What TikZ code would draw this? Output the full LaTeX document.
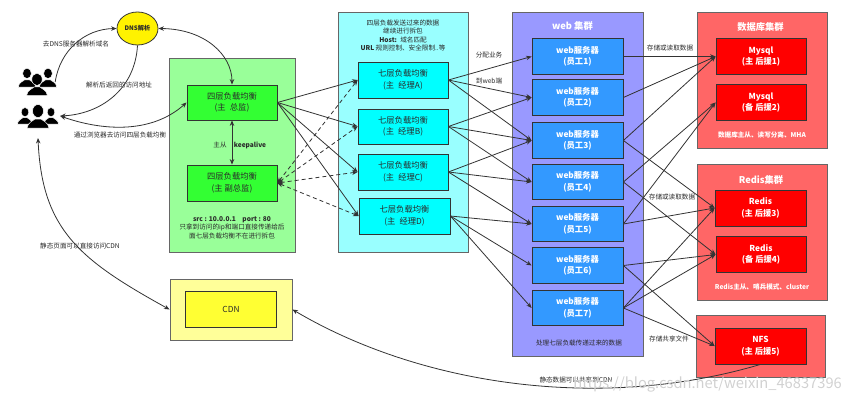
\documentclass[tikz,border=0pt]{standalone}
\usepackage{fontspec}
\setmainfont{Noto Sans CJK SC}
\usetikzlibrary{arrows.meta,shapes.geometric}
\definecolor{edgegray}{HTML}{666666}
\definecolor{linedark}{HTML}{333333}
\definecolor{textdark}{HTML}{2A2A2A}
\definecolor{gBack}{HTML}{99FF99}
\definecolor{gFill}{HTML}{33FF33}
\definecolor{yBack}{HTML}{FFFF99}
\definecolor{yFill}{HTML}{FFFF33}
\definecolor{aBack}{HTML}{99FFFF}
\definecolor{aFill}{HTML}{00FFFF}
\definecolor{wBack}{HTML}{9999FF}
\definecolor{wFill}{HTML}{3399FF}
\definecolor{rBack}{HTML}{FF6666}
\definecolor{rFill}{HTML}{FF0000}
\tikzset{
  outerbox/.style={draw=edgegray,line width=.9pt,inner sep=0pt},
  innerbox/.style={draw=linedark,line width=.8pt,inner sep=0pt,align=center,
    font=\fontsize{8.3}{11.5}\selectfont,text=textdark},
  whitebox/.style={innerbox,text=white,font=\fontsize{8.3}{11.5}\selectfont\bfseries},
  lbl/.style={inner sep=0pt,align=center,text=textdark,font=\fontsize{6.6}{8.6}\selectfont},
  whitelbl/.style={lbl,text=white,font=\fontsize{6.6}{8}\selectfont\bfseries},
  title/.style={inner sep=0pt,text=white,font=\fontsize{9.3}{11}\selectfont\bfseries},
  flow/.style={draw=linedark,line width=.8pt,-{Stealth[length=5.5pt,width=4.5pt]}},
  flowtwo/.style={flow,{Stealth[length=5.5pt,width=4.5pt]}-{Stealth[length=5.5pt,width=4.5pt]}},
  dashflow/.style={flowtwo,dashed,dash pattern=on 4pt off 3pt}
}
\begin{document}
\begin{tikzpicture}[x=1pt,y=-1pt]
  \useasboundingbox (0,0) rectangle (852,402);

  \node[outerbox,fill=gBack,minimum width=126pt,minimum height=194pt] (gBig) at (232,155) {};
  \node[outerbox,fill=yBack,minimum width=122pt,minimum height=61pt] (cBig) at (231,309.5) {};
  \node[outerbox,fill=aBack,minimum width=130pt,minimum height=239.5pt] (aBig) at (403,132.2) {};
  \node[outerbox,fill=wBack,minimum width=131pt,minimum height=343.5pt] (wBig) at (577.5,184.2) {};
  \node[outerbox,fill=rBack,minimum width=130pt,minimum height=135.5pt] (mBig) at (762,80.2) {};
  \node[outerbox,fill=rBack,minimum width=130pt,minimum height=136pt] (rBig) at (762,232) {};
  \node[outerbox,fill=rBack,minimum width=129pt,minimum height=62pt] (nBig) at (760.5,346) {};

  \node[ellipse,draw=linedark,line width=.8pt,fill=yellow,minimum width=41pt,minimum height=33pt,inner sep=0pt,font=\fontsize{6.2}{8}\selectfont\bfseries,text=textdark] (dns) at (137.5,28.5) {DNS解析};

  \node[innerbox,fill=gFill,minimum width=90pt,minimum height=35pt] (g1) at (232,102.5) {四层负载均衡\\(主\enspace 总监)};
  \node[innerbox,fill=gFill,minimum width=90pt,minimum height=36pt] (g2) at (232,183) {四层负载均衡\\(主 副总监)};
  \node[innerbox,fill=yFill,minimum width=91pt,minimum height=36pt] (cdn) at (231,309) {CDN};

  \node[innerbox,fill=aFill,minimum width=90pt,minimum height=36pt] (a7) at (403,80) {七层负载均衡\\(主\enspace 经理A)};
  \node[innerbox,fill=aFill,minimum width=90pt,minimum height=35pt] (b7) at (403,126.5) {七层负载均衡\\(主\enspace 经理B)};
  \node[innerbox,fill=aFill,minimum width=90pt,minimum height=36pt] (c7) at (403,172) {七层负载均衡\\(主\enspace 经理C)};
  \node[innerbox,fill=aFill,minimum width=91pt,minimum height=36pt] (d7) at (404.5,216) {七层负载均衡\\(主\enspace 经理D)};

  \foreach \name/\ypos/\num in {w1/56.5/1,w2/97.5/2,w3/140.5/3,w4/182/4,w5/224/5,w6/265.5/6,w7/308/7}
    \node[whitebox,fill=wFill,minimum width=91pt,minimum height=35.5pt] (\name) at (577.5,\ypos) {web服务器\\(员工\num)};

  \node[whitebox,fill=rFill,minimum width=90pt,minimum height=35.5pt] (m1) at (761,56.5) {Mysql\\(主 后援1)};
  \node[whitebox,fill=rFill,minimum width=90pt,minimum height=35.5pt] (m2) at (761,102.5) {Mysql\\(备 后援2)};
  \node[whitebox,fill=rFill,minimum width=91pt,minimum height=36pt] (r3) at (760.5,208) {Redis\\(主 后援3)};
  \node[whitebox,fill=rFill,minimum width=90pt,minimum height=35.5pt] (r4) at (761,254.5) {Redis\\(备 后援4)};
  \node[whitebox,fill=rFill,minimum width=91pt,minimum height=36pt] (nfs) at (760.5,346) {NFS\\(主 后援5)};

  % user icons
  \node[minimum width=36pt,minimum height=28pt,inner sep=0pt] (usrA) at (37,82) {};
  \node[minimum width=44pt,minimum height=26pt,inner sep=0pt] (usrB) at (38,116) {};
  \coordinate (usrC) at (38,138);
  \foreach \cx/\cy/\sz in {27/79/.8,48/79/.8,37/86/.95,25/117/.7,51/117/.7,38/118/1}
    \filldraw[fill=black,draw=white,line width=.5pt,shift={(\cx,\cy)},scale=\sz] (0,-7) circle[x radius=5.5,y radius=6.5]
      (-11,10) .. controls (-10,4) and (-5,3) .. (-3,1) -- (3,1) .. controls (5,3) and (10,4) .. (11,10) -- cycle;

  \draw[flow] (usrA.east) .. controls (60,50) and (85,29) .. (dns.west);
  \draw[flow] (dns.south) .. controls (135,90) and (100,114) .. (usrB.east);
  \draw[flowtwo] (usrB.east) .. controls (100,130) and (150,135) .. (g1.west);
  \draw[flowtwo] (dns.east) .. controls (205,29) and (232,55) .. (g1.north);
  \draw[flowtwo] (g1) -- (g2);
  \draw[flowtwo] (usrC) .. controls (42,230) and (80,260) .. (cBig.west);
  \draw[flow] (nfs.south) .. controls (600,412) and (420,385) .. (cBig.east);

  \foreach \to in {a7,b7,c7,d7}
    \draw[flow] (g1.east) -- (\to.west);
  \foreach \to in {a7,b7,c7,d7}
    \draw[dashflow] (g2.east) -- (\to.west);

  \foreach \from/\to in {a7/w1,a7/w2,a7/w3,b7/w2,b7/w3,b7/w4,c7/w3,c7/w4,c7/w5,d7/w5,d7/w6,d7/w7,
    w1/m1,w2/m1,w3/m1,w3/r3,w4/m2,w4/r4,w5/m2,w5/r3,w6/r4,w6/nfs,w7/r3,w7/r4,w7/nfs}
    \draw[flow] (\from.east) -- (\to.west);

  \node[lbl] (lbDns) at (76,44) {去DNS服务器解析域名};
  \node[lbl] (lbBack) at (119,85) {解析后返回的访问地址};
  \node[lbl] (lbBrowser) at (120,135.5) {通过浏览器去访问四层负载均衡};
  \node[lbl] (lbCdn) at (80,245.5) {静态页面可以直接访问CDN};
  \node[lbl] (lbMain) at (220,145) {主从};
  \node[lbl,font=\fontsize{6.6}{8.6}\selectfont\bfseries] (lbKeep) at (250,145) {keepalive};
  \node[lbl] (lbSrc) at (232,227.7) {\textbf{src : 10.0.0.1\quad port : 80}\\只拿到访问的ip和端口直接传递给后\\面七层负载均衡不在进行拆包};
  \node[lbl] (lbHead) at (403,35.5) {四层负载发送过来的数据\\继续进行拆包\\\textbf{Host:}\enspace 域名匹配\\\textbf{URL} 规则控制、安全限制..等};
  \node[lbl] (lbTask) at (489,55) {分配业务};
  \node[lbl] (lbWeb) at (489,81) {到web端};
  \node[lbl] (lbDeal) at (579,343) {处理七层负载传递过来的数据};
  \node[lbl] (lbStoreA) at (670,47.5) {存储或读取数据};
  \node[lbl] (lbStoreB) at (672,197) {存储或读取数据};
  \node[lbl] (lbShare) at (669,339) {存储共享文件};
  \node[lbl] (lbShareCdn) at (576,380) {静态数据可以共享到CDN};
  \node[whitelbl] (lbMha) at (762,135) {数据库主从、读写分离、MHA};
  \node[whitelbl] (lbRedis) at (762,287) {Redis主从、哨兵模式、cluster};
  \node[title] (wTitle) at (572.5,26) {web 集群};
  \node[title] (mTitle) at (760.5,27) {数据库集群};
  \node[title] (rTitle) at (761,180) {Redis集群};

  \node[inner sep=0pt,text=black!18,font=\fontsize{14.7}{18}\selectfont,anchor=east] (mark) at (842,384) {https://blog.csdn.net/weixin\_46837396};
\end{tikzpicture}
\end{document}
